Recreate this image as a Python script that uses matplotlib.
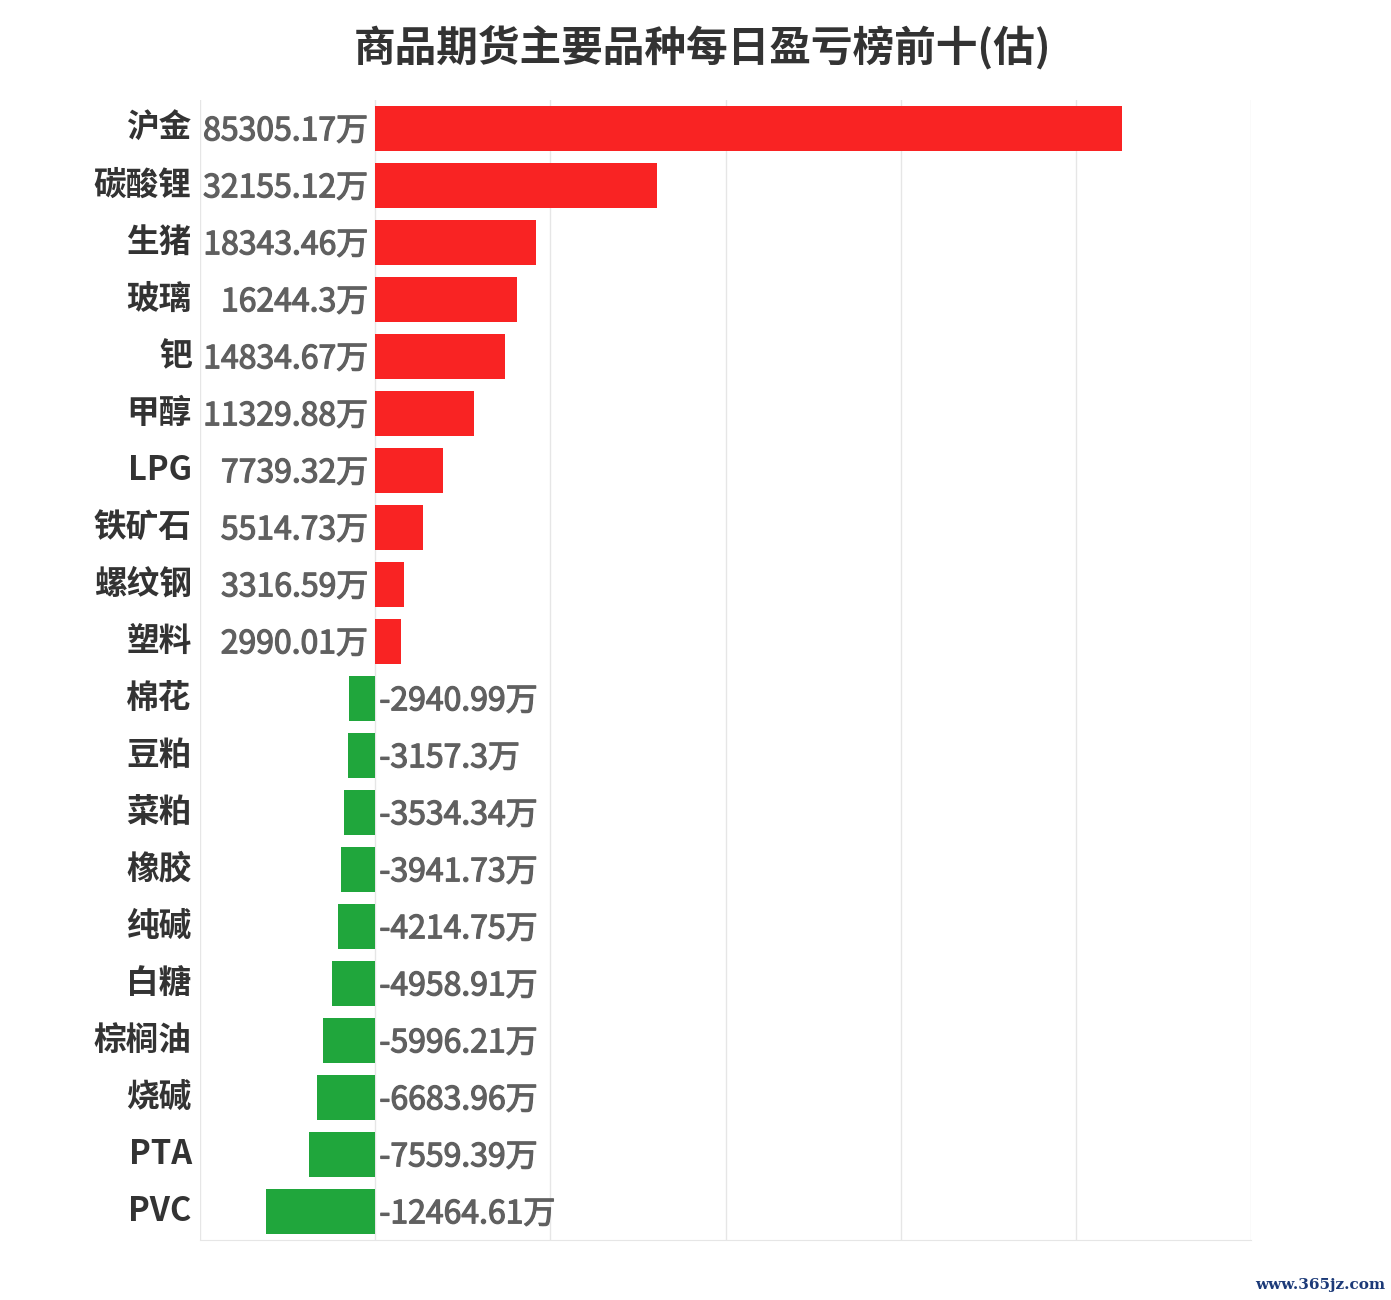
import matplotlib
matplotlib.use('Agg')
import matplotlib.pyplot as plt
import matplotlib.patheffects as pe
import numpy as np

plt.rcParams['font.family'] = ['Noto Sans CJK SC', 'DejaVu Sans']

# 数据
names = ['沪金', '碳酸锂', '生猪', '玻璃', '钯', '甲醇', 'LPG', '铁矿石', '螺纹钢', '塑料',
         '棉花', '豆粕', '菜粕', '橡胶', '纯碱', '白糖', '棕榈油', '烧碱', 'PTA', 'PVC']
values = [85305.17, 32155.12, 18343.46, 16244.3, 14834.67, 11329.88, 7739.32, 5514.73, 3316.59, 2990.01,
          -2940.99, -3157.3, -3534.34, -3941.73, -4214.75, -4958.91, -5996.21, -6683.96, -7559.39, -12464.61]
labels = ['85305.17万', '32155.12万', '18343.46万', '16244.3万', '14834.67万', '11329.88万', '7739.32万',
          '5514.73万', '3316.59万', '2990.01万', '-2940.99万', '-3157.3万', '-3534.34万', '-3941.73万',
          '-4214.75万', '-4958.91万', '-5996.21万', '-6683.96万', '-7559.39万', '-12464.61万']

fig = plt.figure(figsize=(13.91, 13.0), dpi=100)
ax = fig.add_axes([200 / 1391, 1 - 1240 / 1300, 1051 / 1391, 1140 / 1300])

y = np.arange(len(names))
colors = ['#f92323' if v > 0 else '#20a63c' for v in values]
ax.barh(y, values, height=0.8, color=colors, zorder=3)

ax.set_xlim(-20000, 100000)
ax.set_ylim(len(names) - 0.5, -0.5)
ax.set_xticks(np.arange(-20000, 100001, 20000))
ax.grid(axis='x', color='#e6e6e6', linewidth=1, zorder=0)
ax.tick_params(axis='x', length=0, labelbottom=False)
ax.tick_params(axis='y', length=0, labelleft=False)
for s in ['top', 'right', 'left']:
    ax.spines[s].set_visible(False)
ax.spines['bottom'].set_color('#e6e6e6')

# 数值标签略加粗
thick = [pe.withStroke(linewidth=0.9, foreground='#606060')]

for i, (v, lab) in enumerate(zip(values, labels)):
    if v > 0:
        ax.annotate(lab, (0, i), xytext=(-5, -2), textcoords='offset points',
                    ha='right', va='center', fontsize=23, color='#606060', path_effects=thick)
    else:
        ax.annotate(lab, (0, i), xytext=(3, -2), textcoords='offset points',
                    ha='left', va='center', fontsize=23, color='#606060', path_effects=thick)
    ax.annotate(names[i], (-20000, i), xytext=(-6, 0), textcoords='offset points',
                ha='right', va='center', fontsize=23.5, fontweight='bold', color='#333333',
                annotation_clip=False)

fig.text(0.505, 1 - 47 / 1300, '商品期货主要品种每日盈亏榜前十(估)', ha='center', va='center',
         fontsize=30, fontweight='bold', color='#333333')
fig.text(1385 / 1391, 1 - 1285 / 1300, 'www.365jz.com', ha='right', va='center',
         fontsize=11, fontweight='bold', color='#1c3a78', family='DejaVu Serif')

fig.savefig('out.png', dpi=100)
